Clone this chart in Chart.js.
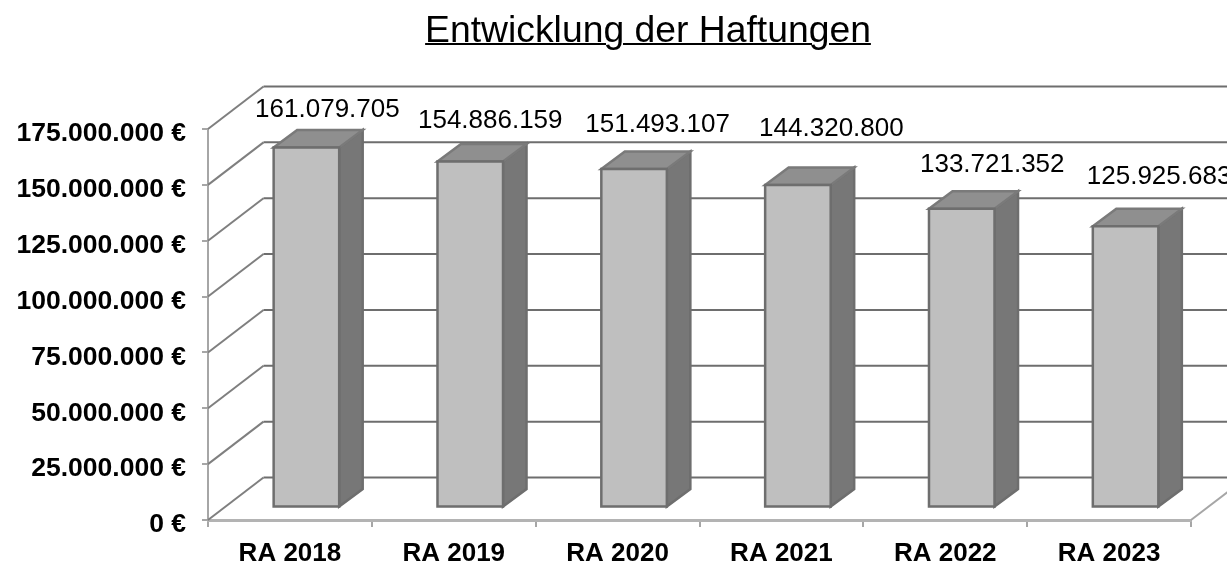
<!DOCTYPE html>
<html lang="de">
<head>
<meta charset="utf-8">
<title>Entwicklung der Haftungen</title>
<script src="https://cdn.jsdelivr.net/npm/chart.js@4"></script>
<style>
    html, body { margin: 0; padding: 0; background: #fff; overflow: hidden; }
    #wrap { position: relative; width: 1227px; height: 563px; }
    #title {
        position: absolute; left: 648px; top: 8px; transform: translateX(-50%);
        font: 37.3px "Liberation Sans", Arial, sans-serif; color: #000;
        text-decoration: underline; text-decoration-thickness: 2px; white-space: nowrap;
    }
    canvas { display: block; }
</style>
</head>
<body>
<div id="wrap">
    <div id="title">Entwicklung der Haftungen</div>
    <canvas id="chartCanvas" width="1227" height="563"></canvas>
</div>
<script>
const categories = ['RA 2018', 'RA 2019', 'RA 2020', 'RA 2021', 'RA 2022', 'RA 2023'];
const haftungen = [161079705, 154886159, 151493107, 144320800, 133721352, 125925683];
const yTickLabels = ['0 €', '25.000.000 €', '50.000.000 €', '75.000.000 €', '100.000.000 €', '125.000.000 €', '150.000.000 €', '175.000.000 €'];

// labels were moved by hand in the original, so each one has its own nudge from the bar top
const labelNudgeX = [21, 20, 23.5, 33.5, 30.5, 33.5];
const labelNudgeY = [-38, -41, -44, -56, -44, -49];

const WALL_DX = 55.5, WALL_DY = -42.5;  // floor depth
const BAR_DX = 16.5, BAR_DY = -12.5;    // where the bar front stands on the floor
const SIDE_DX = 23.5, SIDE_DY = -17.5;  // bar depth

const face = (ctx, pts, fill, stroke) => {
    ctx.beginPath();
    pts.forEach((p, i) => i ? ctx.lineTo(p[0], p[1]) : ctx.moveTo(p[0], p[1]));
    ctx.closePath();
    if (fill) {
        ctx.fillStyle = fill;
        ctx.fill();
    }
    ctx.strokeStyle = stroke;
    ctx.lineWidth = 2.5;
    ctx.stroke();
};

const line = (ctx, x1, y1, x2, y2, color) => {
    ctx.beginPath();
    ctx.moveTo(x1, y1);
    ctx.lineTo(x2, y2);
    ctx.strokeStyle = color;
    ctx.lineWidth = 2;
    ctx.stroke();
};

const pseudo3d = {
    id: 'pseudo3d',
    beforeDatasetsDraw(chart) {
        const { ctx, chartArea: a, scales: { y } } = chart;
        ctx.save();
        // back wall and left wall
        y.ticks.forEach(t => {
            const py = y.getPixelForValue(t.value);
            line(ctx, a.left, py, a.left + WALL_DX, py + WALL_DY, '#7f7f7f');
            line(ctx, a.left + WALL_DX, py + WALL_DY, a.right + WALL_DX, py + WALL_DY, '#6e6e6e');
        });
        line(ctx, a.right, a.bottom, a.right + WALL_DX, a.bottom + WALL_DY, '#a6a6a6');
        // bar top and side, the front comes from the bar element itself
        ctx.translate(BAR_DX, BAR_DY);
        chart.getDatasetMeta(0).data.forEach(bar => {
            const l = bar.x - bar.width / 2, r = bar.x + bar.width / 2;
            face(ctx, [[r, bar.y], [r + SIDE_DX, bar.y + SIDE_DY], [r + SIDE_DX, bar.base + SIDE_DY], [r, bar.base]], '#777777', '#6e6e6e');
            face(ctx, [[l, bar.y], [l + SIDE_DX, bar.y + SIDE_DY], [r + SIDE_DX, bar.y + SIDE_DY], [r, bar.y]], '#8f8f8f', '#7a7a7a');
        });
    },
    afterDatasetsDraw(chart) {
        const { ctx } = chart;
        // outline on the bar edge, a bar element's own border sits inside it
        chart.getDatasetMeta(0).data.forEach(bar => {
            const l = bar.x - bar.width / 2, r = bar.x + bar.width / 2;
            face(ctx, [[l, bar.y], [r, bar.y], [r, bar.base], [l, bar.base]], null, '#6e6e6e');
        });
        ctx.restore();
        ctx.save();
        ctx.font = '26px "Liberation Sans", Arial, sans-serif';
        ctx.fillStyle = '#000';
        ctx.textAlign = 'center';
        ctx.textBaseline = 'middle';
        chart.getDatasetMeta(0).data.forEach((bar, i) => {
            const text = String(haftungen[i]).replace(/\B(?=(\d{3})+$)/g, '.');
            ctx.fillText(text, bar.x + BAR_DX + labelNudgeX[i], bar.y + BAR_DY + labelNudgeY[i]);
        });
        ctx.restore();
    }
};

new Chart(document.getElementById('chartCanvas'), {
    type: 'bar',
    data: {
        labels: categories,
        datasets: [{
            data: haftungen,
            backgroundColor: '#bfbfbf',
            borderWidth: 0,
            barPercentage: 0.4,
            categoryPercentage: 1,
            clip: false
        }]
    },
    options: {
        responsive: false,
        animation: false,
        layout: { padding: { top: 129, right: 36, left: 0, bottom: 0 } },
        plugins: { legend: { display: false }, tooltip: { enabled: false } },
        scales: {
            x: {
                grid: { offset: true, drawOnChartArea: false, tickLength: 7, color: '#a6a6a6', lineWidth: 2 },
                border: { color: '#b3b3b3', width: 3 },
                ticks: { color: '#000', padding: 11, maxRotation: 0, font: { family: '"Liberation Sans", Arial, sans-serif', size: 26, weight: 'bold' } },
                afterFit: s => { s.height = 43; }
            },
            y: {
                min: 0,
                max: 175000000,
                grid: { drawOnChartArea: false, tickLength: 6, color: '#a6a6a6', lineWidth: 2 },
                border: { color: '#a6a6a6', width: 2 },
                ticks: {
                    stepSize: 25000000,
                    color: '#000',
                    padding: 16,
                    labelOffset: 5,
                    font: { family: '"Liberation Sans", Arial, sans-serif', size: 26.5, weight: 'bold' },
                    callback: (v, i) => yTickLabels[i]
                },
                afterFit: s => { s.width = 208; }
            }
        }
    },
    plugins: [pseudo3d]
});
</script>
</body>
</html>
